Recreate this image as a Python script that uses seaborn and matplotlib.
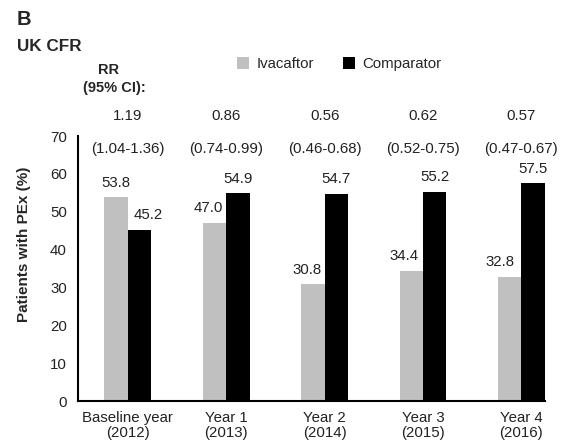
import matplotlib
matplotlib.use("Agg")
import matplotlib.pyplot as plt
from matplotlib.patches import Patch
import seaborn as sns
import pandas as pd

categories = ["Baseline year\n(2012)", "Year 1\n(2013)", "Year 2\n(2014)",
              "Year 3\n(2015)", "Year 4\n(2016)"]
ivacaftor = [53.8, 47.0, 30.8, 34.4, 32.8]
comparator = [45.2, 54.9, 54.7, 55.2, 57.5]
rr_values = ["1.19", "0.86", "0.56", "0.62", "0.57"]
rr_ci = ["(1.04-1.36)", "(0.74-0.99)", "(0.46-0.68)", "(0.52-0.75)", "(0.47-0.67)"]
groups = ["Ivacaftor", "Comparator"]
colors = ["#c0c0c0", "#000000"]

# horizontal nudges (points) that keep value labels clear of neighbouring bars
label_dx = {
    "Ivacaftor": [0, -4.5, -4.5, -5, -7],
    "Comparator": [6.5, 0, 0, 0, 0],
}

df = pd.DataFrame({
    "period": categories * 2,
    "group": [groups[0]] * 5 + [groups[1]] * 5,
    "value": ivacaftor + comparator,
})

sns.set_style("white")
plt.rcParams["font.family"] = ["Liberation Sans", "DejaVu Sans"]

fig = plt.figure(figsize=(5.63, 4.43), dpi=100)
ax = fig.add_axes([0.1385, 0.0948, 0.8295, 0.598])

sns.barplot(data=df, x="period", y="value", hue="group", palette=colors,
            width=0.475, gap=0, edgecolor="none", linewidth=0, ax=ax,
            legend=False, errorbar=None)

for cont, g in zip(ax.containers, groups):
    for bar, dx in zip(cont, label_dx[g]):
        h = bar.get_height()
        ax.annotate(f"{h:.1f}", (bar.get_x() + bar.get_width() / 2, h),
                    xytext=(dx, 5.5), textcoords="offset points",
                    ha="center", va="bottom", fontsize=10.8, color="#222222")

ax.set_ylim(0, 70)
ax.set_xlim(-0.507, 4.24)
ax.set_yticks(range(0, 71, 10))
ax.set_xticks([0.5, 1.5, 2.5, 3.5])
ax.set_xticklabels([])
ax.tick_params(axis="x", which="major", direction="out", length=4, width=1.2, color="black")
ax.tick_params(axis="y", direction="out", length=5, width=1.2, color="black",
               labelsize=10.8, labelcolor="#222222", pad=3)
for i, lab in enumerate(categories):
    ax.text(i, -2.6, lab, ha="center", va="top", fontsize=10.8, color="#222222",
            linespacing=1.12)

ax.set_xlabel("")
ax.set_ylabel("Patients with PEx (%)", fontsize=11, fontweight="bold")
ax.yaxis.set_label_coords(-0.1, 0.59)
sns.despine(ax=ax)
for s in ["left", "bottom"]:
    ax.spines[s].set_color("black")
    ax.spines[s].set_linewidth(1.5)

for i, (rr, ci) in enumerate(zip(rr_values, rr_ci)):
    ax.text(i, 75.3, rr, ha="center", va="center", fontsize=10.8,
            color="#222222", clip_on=False)
    ax.text(i, 66.7, ci, ha="center", va="center", fontsize=10.8,
            color="#222222", clip_on=False)

fig.text(0.03, 0.955, "B", fontsize=14.5, fontweight="bold", va="center", ha="left")
fig.text(0.03, 0.894, "UK CFR", fontsize=12.3, fontweight="bold", va="center", ha="left")
fig.text(0.192, 0.842, "RR", fontsize=10.5, fontweight="bold", va="center", ha="center")
fig.text(0.204, 0.801, "(95% CI):", fontsize=10.5, fontweight="bold", va="center", ha="center")

handles = [Patch(facecolor=c, edgecolor="none") for c in colors]
fig.legend(handles, groups, loc="center left", bbox_to_anchor=(0.421, 0.855),
           ncol=2, frameon=False, fontsize=10.8, handlelength=0.8,
           handleheight=0.8, handletextpad=0.5, columnspacing=1.9,
           borderaxespad=0, borderpad=0)

fig.savefig("out.png", dpi=100)
